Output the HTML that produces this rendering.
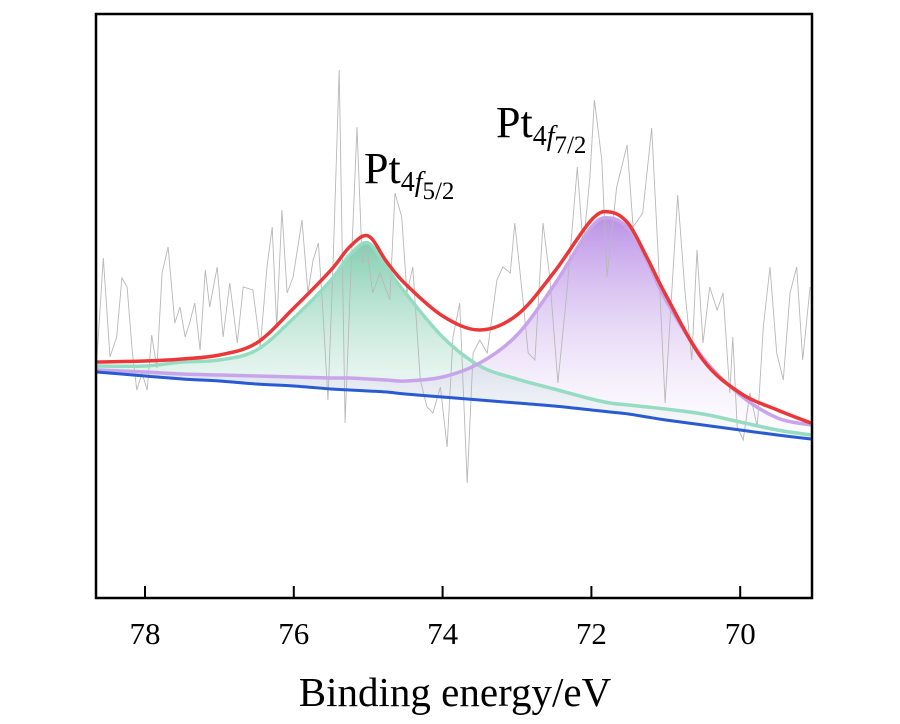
<!DOCTYPE html>
<html><head><meta charset="utf-8"><style>
html,body{margin:0;padding:0;background:#fff;}
svg{display:block;font-family:"Liberation Serif",serif;}
</style></head><body>
<svg id="chart" width="900" height="724" viewBox="0 0 900 724" xmlns="http://www.w3.org/2000/svg">
<defs>
<linearGradient id="gGreen" x1="0" y1="0" x2="0" y2="1"><stop offset="0" stop-color="rgb(90,190,150)" stop-opacity="0.75"/><stop offset="1" stop-color="rgb(200,230,220)" stop-opacity="0.05"/></linearGradient>
<linearGradient id="gPurple" x1="0" y1="0" x2="0" y2="1"><stop offset="0" stop-color="rgb(170,120,225)" stop-opacity="0.8"/><stop offset="1" stop-color="rgb(230,215,245)" stop-opacity="0.05"/></linearGradient>
<clipPath id="plotClip"><rect x="96" y="14" width="716" height="584"/></clipPath>
</defs>
<g id="plot" clip-path="url(#plotClip)"></g>
<rect x="96" y="14" width="716" height="584" fill="none" stroke="#000" stroke-width="2.5"/>
<g id="ticks"></g>
<text x="455" y="706" text-anchor="middle" font-size="41">Binding energy/eV</text>
<text x="364" y="183" font-size="44">Pt<tspan font-size="28" dy="8">4</tspan><tspan font-size="28" font-style="italic">f</tspan><tspan font-size="25" dy="8">5/2</tspan></text>
<text x="496" y="137" font-size="44">Pt<tspan font-size="28" dy="8">4</tspan><tspan font-size="28" font-style="italic">f</tspan><tspan font-size="25" dy="8">7/2</tspan></text>
</svg>
<script>
const tickValues = [78, 76, 74, 72, 70];
const tickLabels = ["78", "76", "74", "72", "70"];
const fitE = [78.65,78,77.5,77,76.5,76,75.5,75.25,75,74.75,74.5,74,73.5,73,72.5,72,71.75,71.5,71.25,71,70.5,70,69.5,69.05];
const baseline = [226,222,219,217,214,212,209,208,207,206,204,201,198,195,192,188,186,184,181,178,173,168,163,159];
const peak52 = [232,232,236,238,248,280,318,343,355,330,305,261,232,219,209,199,195,193,191,189,184,176,168,163];
const peak72 = [228,226,224,223,222,221,220,220,219,218,217,221,235,263,313,371,380,369,337,298,240,203,180,173];
const envelope = [236,237,239,243,255,290,328,351,362,336,314,282,268,283,326,378,386,374,340,303,238,205,188,175];
const rawE = [78.65,78.56,78.47,78.38,78.31,78.24,78.17,78.11,78.04,77.97,77.91,77.84,77.77,77.69,77.60,77.53,77.46,77.40,77.33,77.26,77.19,77.13,77.03,76.95,76.86,76.76,76.68,76.55,76.45,76.36,76.29,76.23,76.16,76.09,76.01,75.89,75.81,75.74,75.67,75.61,75.54,75.47,75.39,75.31,75.24,75.15,75.08,75.02,74.94,74.84,74.71,74.64,74.55,74.48,74.40,74.30,74.21,74.13,74.03,73.94,73.86,73.77,73.67,73.59,73.50,73.40,73.27,73.19,73.09,73.03,72.93,72.85,72.76,72.65,72.56,72.45,72.33,72.19,72.11,72.02,71.96,71.86,71.79,71.66,71.52,71.44,71.31,71.19,71.10,71.01,70.92,70.84,70.74,70.65,70.58,70.50,70.41,70.31,70.23,70.14,70.10,70.04,69.96,69.87,69.77,69.69,69.60,69.51,69.42,69.33,69.24,69.16,69.06];
const rawI = [235,340,241,261,320,311,245,208,225,208,263,230,325,351,275,291,261,275,295,248,328,291,331,261,315,255,311,308,251,331,371,271,388,305,321,378,305,338,355,288,198,338,528,175,311,471,335,351,305,325,298,405,381,305,331,218,191,185,211,151,261,295,115,245,258,245,318,331,325,375,305,245,238,375,321,215,305,431,351,421,498,438,321,411,453,371,385,470,338,195,305,403,305,238,348,255,311,288,305,205,261,171,158,205,171,271,331,245,218,305,331,238,311];

const X0 = 96, X1 = 812, Y0 = 598, Y1 = 14;
const E0 = 78.6586, E1 = 69.0349;
function xs(e){ return X0 + (E0 - e) / (E0 - E1) * (X1 - X0); }
function ys(v){ return Y0 - v / 584 * (Y0 - Y1); }
function pts(E, V){ return E.map((e,i)=>[xs(e), ys(V[i])]); }
function smooth(p){
  let d = "M" + p[0][0].toFixed(2) + "," + p[0][1].toFixed(2);
  for (let i=0;i<p.length-1;i++){
    const p0=p[Math.max(i-1,0)], p1=p[i], p2=p[i+1], p3=p[Math.min(i+2,p.length-1)];
    const c1=[p1[0]+(p2[0]-p0[0])/6, p1[1]+(p2[1]-p0[1])/6];
    const c2=[p2[0]-(p3[0]-p1[0])/6, p2[1]-(p3[1]-p1[1])/6];
    d += "C"+c1[0].toFixed(2)+","+c1[1].toFixed(2)+" "+c2[0].toFixed(2)+","+c2[1].toFixed(2)+" "+p2[0].toFixed(2)+","+p2[1].toFixed(2);
  }
  return d;
}
function revSmooth(p){ return smooth(p.slice().reverse()).replace(/^M/,"L"); }
const NS="http://www.w3.org/2000/svg";
const plot=document.getElementById("plot");
function path(d, attrs){
  const el=document.createElementNS(NS,"path");
  el.setAttribute("d", d);
  for (const k in attrs) el.setAttribute(k, attrs[k]);
  plot.appendChild(el);
  return el;
}
const basePts = pts(fitE, baseline);
let f1 = path(smooth(pts(fitE, peak52)) + revSmooth(basePts) + "Z", {fill:"url(#gGreen)", stroke:"none"});


let f2 = path(smooth(pts(fitE, peak72)) + revSmooth(basePts) + "Z", {fill:"url(#gPurple)", stroke:"none"});


let raw = path("M" + pts(rawE, rawI).map(p=>p[0].toFixed(1)+","+p[1].toFixed(1)).join("L"), {fill:"none", stroke:"#b8b8b8", "stroke-width":"0.9"});


let l1 = path(smooth(pts(fitE, peak52)), {fill:"none", stroke:"rgb(150,220,195)", "stroke-width":"3.5"});


let l2 = path(smooth(pts(fitE, peak72)), {fill:"none", stroke:"rgb(200,165,235)", "stroke-width":"3.5"});


let bl = path(smooth(basePts), {fill:"none", stroke:"rgb(40,90,210)", "stroke-width":"3"});


let env = path(smooth(pts(fitE, envelope)), {fill:"none", stroke:"rgb(235,55,55)", "stroke-width":"3.5"});


const tg=document.getElementById("ticks");
tickValues.forEach((t,i)=>{
  const x=xs(t);
  const ln=document.createElementNS(NS,"line");
  ln.setAttribute("x1",x); ln.setAttribute("x2",x); ln.setAttribute("y1",598); ln.setAttribute("y2",586);
  ln.setAttribute("stroke","#000"); ln.setAttribute("stroke-width","2");
  
  
  tg.appendChild(ln);
  const tx=document.createElementNS(NS,"text");
  tx.setAttribute("x",x); tx.setAttribute("y",644); tx.setAttribute("text-anchor","middle"); tx.setAttribute("font-size","31");
  tx.textContent=tickLabels[i];
  
  
  tg.appendChild(tx);
});
</script>
</body></html>
